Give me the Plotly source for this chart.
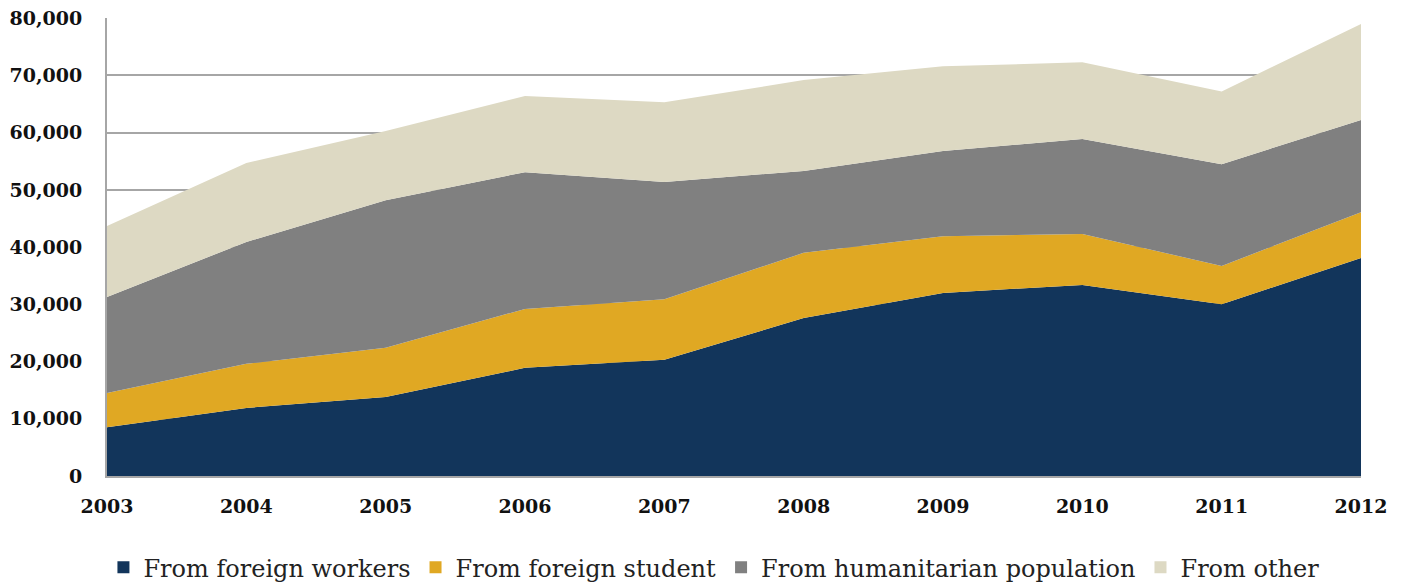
import plotly.graph_objects as go

years = [2003, 2004, 2005, 2006, 2007, 2008, 2009, 2010, 2011, 2012]
workers = [8500, 11900, 13800, 18900, 20300, 27600, 32000, 33400, 30000, 38100]
students = [6000, 7700, 8600, 10300, 10600, 11400, 9900, 8900, 6700, 8000]
humanitarian = [16800, 21300, 25800, 23900, 20500, 14300, 14900, 16600, 17800, 16100]
other = [12400, 13800, 12100, 13300, 13900, 15900, 14800, 13400, 12700, 16800]

series = [
    ("From foreign workers", workers, "#12355B"),
    ("From foreign student", students, "#E0A823"),
    ("From humanitarian population", humanitarian, "#808080"),
    ("From other", other, "#DDD9C3"),
]

fig = go.Figure()
for name, vals, col in series:
    fig.add_trace(go.Scatter(
        x=years, y=vals, name=name, stackgroup="one", mode="none",
        fillcolor=col, line=dict(width=0), showlegend=False,
    ))
# legend keys (square swatches)
for name, vals, col in series:
    fig.add_trace(go.Bar(x=[None], y=[None], name=name, marker=dict(color=col, line=dict(width=0)),
                         showlegend=True))

tick_font = dict(family="DejaVu Serif", size=19, color="#111111", weight="bold")

fig.update_layout(
    width=1397, height=577,
    margin=dict(l=99, r=44, t=10, b=109, autoexpand=False),
    plot_bgcolor="white", paper_bgcolor="white",
    font=dict(family="DejaVu Serif", color="#111111"),
    showlegend=True,
    legend=dict(orientation="h", x=0.484, xanchor="center", yref="container", y=0.03, yanchor="middle",
                font=dict(family="DejaVu Serif", size=24, color="#222222"),
                traceorder="normal", itemwidth=30, tracegroupgap=0),
    xaxis=dict(range=[2003, 2012], tickvals=years, ticktext=[str(y) for y in years],
               showgrid=False, zeroline=False, showline=True, linecolor="#A6A6A6", linewidth=2,
               tickfont=tick_font, automargin=False, ticklabeloverflow="allow",
               ticks="", ticklabelstandoff=12),
    yaxis=dict(range=[0, 80040], tickvals=[0, 10000, 20000, 30000, 40000, 50000, 60000, 70000, 80000],
               tickformat=",d",
               showgrid=True, gridcolor="#A6A6A6", gridwidth=2, zeroline=False,
               showline=True, linecolor="#A6A6A6", linewidth=2,
               tickfont=tick_font, automargin=False, ticklabeloverflow="allow",
               ticks="", ticklabelstandoff=19),
)

fig.write_html("out.html")
